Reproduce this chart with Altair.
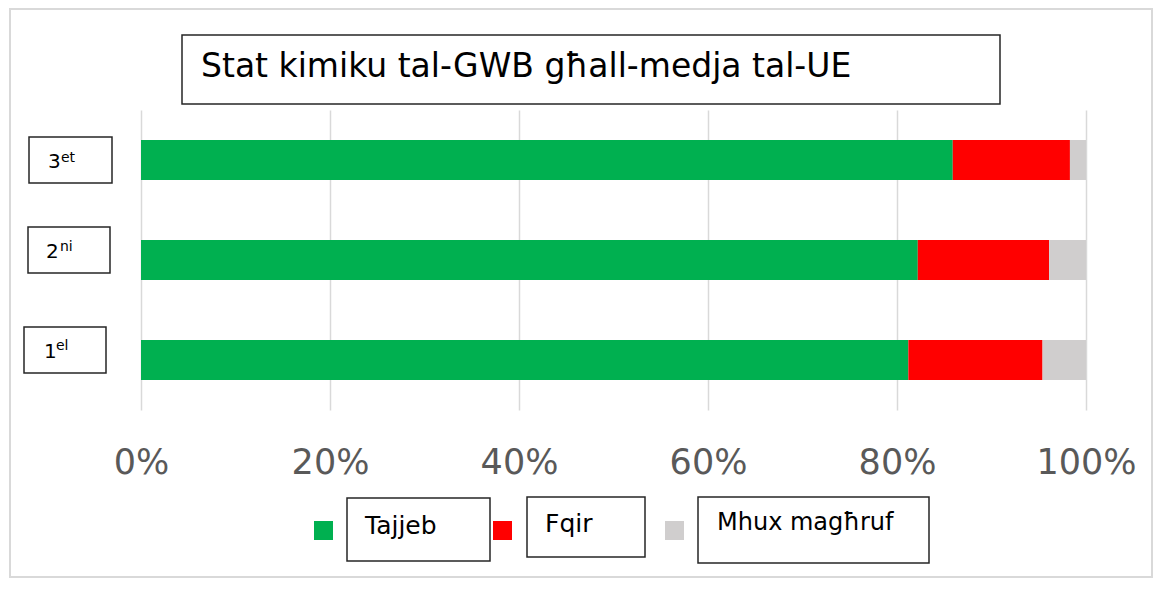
import altair as alt
import pandas as pd

# ---------------- data ----------------
cat_num = ["3", "2", "1"]
cat_sup = ["et", "ni", "el"]
categories = [n + s for n, s in zip(cat_num, cat_sup)]
series = ["Tajjeb", "Fqir", "Mhux magħruf"]
colors = ["#00B050", "#FF0000", "#D0CECE"]
tajjeb = [85.9, 82.2, 81.2]
fqir = [12.4, 13.9, 14.2]
mhux = [1.7, 3.9, 4.6]
tick_values = [0, 20, 40, 60, 80, 100]
title_text = "Stat kimiku tal-GWB għall-medja tal-UE"

rows = []
for i, c in enumerate(categories):
    for j, (s, vals) in enumerate(zip(series, [tajjeb, fqir, mhux])):
        rows.append({"category": c, "series": s, "value": vals[i], "order": j})
df = pd.DataFrame(rows)

# ---------------- layout (pixels relative to plot origin) ----------------
W, H = 945, 300
FONT = "DejaVu Sans"
BOX = "#262626"

def rect(x, x2, y, y2, fill="white", stroke=BOX, sw=1.5):
    return alt.Chart(pd.DataFrame({"k": [0]})).mark_rect(
        fill=fill, stroke=stroke, strokeWidth=sw
    ).encode(x=alt.value(x), x2=alt.value(x2), y=alt.value(y), y2=alt.value(y2))

def text(t, x, y, size, color="#000000", font=FONT):
    return alt.Chart(pd.DataFrame({"t": [t]})).mark_text(
        align="left", baseline="alphabetic", fontSize=size, font=font, color=color
    ).encode(x=alt.value(x), y=alt.value(y), text="t:N")

layers = []
# outer border
layers.append(rect(-131, 1011, -101, 467, fill="transparent", stroke="#d9d9d9", sw=2))

# bars
bars = alt.Chart(df).mark_bar().encode(
    y=alt.Y("category:N", sort=categories,
            scale=alt.Scale(paddingInner=0.6, paddingOuter=0.3), axis=None),
    x=alt.X("value:Q", stack="zero", scale=alt.Scale(domain=[0, 100], nice=False),
            axis=alt.Axis(values=tick_values, labelExpr="datum.value + '%'",
                          grid=True, gridColor="#d9d9d9", gridWidth=1.5,
                          domain=False, ticks=False, labelFontSize=35,
                          labelFont="DejaVu Sans", labelColor="#595959",
                          labelPadding=35, title=None, labelFlush=False)),
    color=alt.Color("series:N", scale=alt.Scale(domain=series, range=colors), legend=None),
    order=alt.Order("order:Q"),
)
layers.append(bars)

# title box
layers.append(rect(41, 859, -75, -6))
layers.append(text(title_text, 60, -33, 33))

# category label boxes
cat_boxes = [(-112, -29, 27, 73), (-113, -31, 117, 163), (-117, -35, 217, 263)]
digit_pos = [(-93, 58), (-95, 148), (-97, 248)]
sup_pos = [(-80, 52), (-81, 141), (-85, 240)]
for i in range(3):
    b = cat_boxes[i]
    layers.append(rect(*b))
    layers.append(text(cat_num[i], digit_pos[i][0], digit_pos[i][1], 20))
    layers.append(text(cat_sup[i], sup_pos[i][0], sup_pos[i][1], 14))

# legend
sq = [(173, 192), (352, 371), (524, 543)]
leg_boxes = [(206, 349, 388, 451), (386, 504, 387, 447), (557, 788, 387, 453)]
leg_text = [(224, 424, 25), (404, 422, 25), (576, 420, 24)]
for i in range(3):
    layers.append(rect(sq[i][0], sq[i][1], 411, 430, fill=colors[i], stroke=colors[i], sw=0))
    layers.append(rect(*leg_boxes[i]))
    layers.append(text(series[i], *leg_text[i]))

chart = alt.layer(*layers).properties(
    width=W, height=H,
    autosize=alt.AutoSizeParams(type="none"),
    padding={"left": 133, "top": 102, "right": 67, "bottom": 171},
).configure(background="white").configure_view(strokeWidth=0)

chart.save("out.html", embed_options={"renderer": "svg", "actions": False})
